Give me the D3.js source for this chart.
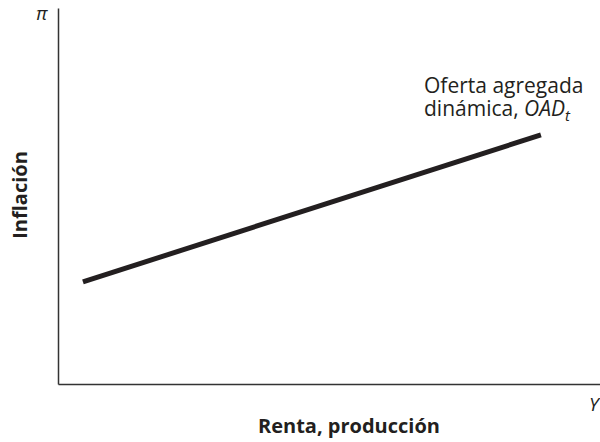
<!DOCTYPE html>
<html>
<head>
<meta charset="utf-8">
<script src="https://cdn.jsdelivr.net/npm/d3@7"></script>
<style>
  body { margin: 0; background: #fff; }
  text { font-family: "Open Sans", "DejaVu Sans", sans-serif; fill: #231f20; }
</style>
</head>
<body>
<div id="chart"></div>
<script>
// curve end points (output share, inflation share of the axis range)
const outputVals = [0.046, 0.891];
const inflationVals = [0.273, 0.666];
const curveLabel = ["Oferta agregada", "dinámica, "];

const W = 600, H = 442;
const margin = { top: 8, right: 0, bottom: 58, left: 58 };

const svg = d3.select("#chart")
  .append("svg")
  .attr("width", W)
  .attr("height", H);

const x = d3.scaleLinear().domain([0, 1]).range([margin.left, W - margin.right]);
const y = d3.scaleLinear().domain([0, 1]).range([H - margin.bottom, H - margin.bottom - 374]);

// axes (no ticks)
svg.append("g")
  .attr("transform", `translate(0,${y(0)})`)
  .call(d3.axisBottom(x).tickValues([]).tickSizeOuter(0))
  .select(".domain").attr("stroke", "#333").attr("stroke-width", 1.5);

svg.append("g")
  .attr("transform", `translate(${x(0)},0)`)
  .call(d3.axisLeft(y.copy().range([y(0), margin.top])).tickValues([]).tickSizeOuter(0))
  .select(".domain").attr("stroke", "#333").attr("stroke-width", 1.5);

// OAD line
const pts = outputVals.map((v, i) => [v, inflationVals[i]]);
svg.append("path")
  .datum(pts)
  .attr("fill", "none")
  .attr("stroke", "#231f20")
  .attr("stroke-width", 5)
  .attr("d", d3.line().x(d => x(d[0])).y(d => y(d[1])));

// curve label
const lbl = svg.append("text")
  .attr("x", 424)
  .attr("y", 93)
  .attr("font-size", 21);
lbl.append("tspan").attr("x", 424).text(curveLabel[0]);
lbl.append("tspan").attr("x", 424).attr("dy", 23).text(curveLabel[1]);
lbl.append("tspan").attr("font-style", "italic").text("OAD");
lbl.append("tspan").attr("font-style", "italic").attr("font-size", 15).attr("dy", 5).text("t");

// axis symbols
svg.append("text")
  .attr("x", 36).attr("y", 20)
  .attr("font-size", 19).attr("font-style", "italic")
  .text("π");

svg.append("text")
  .attr("x", 589).attr("y", 411)
  .attr("font-size", 19).attr("font-style", "italic")
  .text("Y");

// axis titles
svg.append("text")
  .attr("x", 349).attr("y", 433)
  .attr("text-anchor", "middle")
  .attr("font-size", 20).attr("font-weight", "bold")
  .text("Renta, producción");

svg.append("text")
  .attr("transform", "translate(27,195) rotate(-90)")
  .attr("text-anchor", "middle")
  .attr("font-size", 20).attr("font-weight", "bold")
  .text("Inflación");
</script>
</body>
</html>
